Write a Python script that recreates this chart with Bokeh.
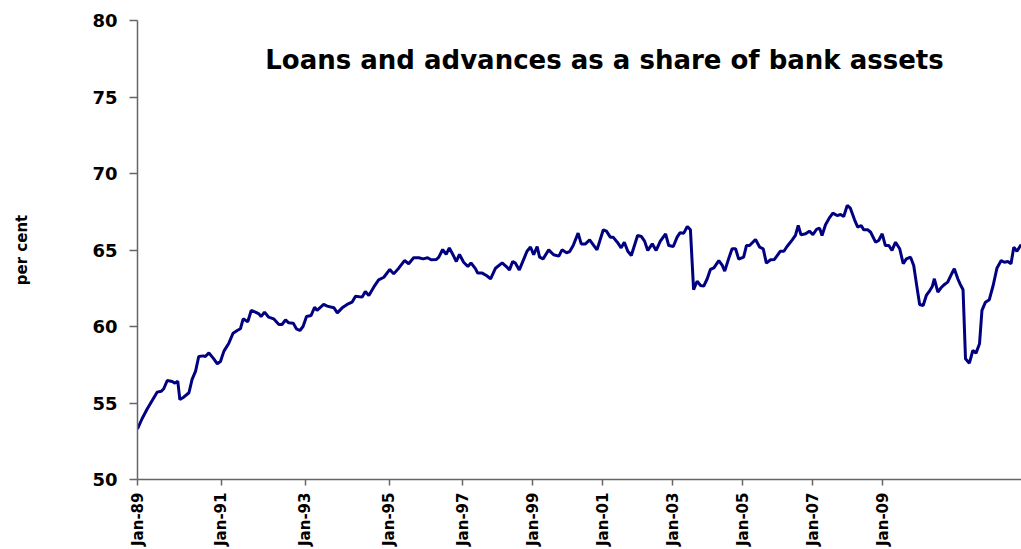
from bokeh.plotting import figure
from bokeh.models import Range1d, FixedTicker, Label
from bokeh.embed import file_html
from bokeh.resources import INLINE

# observation number (monthly-ish index along the category axis) and share of bank assets (per cent)
obs = [0, 1.3, 2.8, 4.2, 5.6, 6.8, 7.5, 8.5, 9.9, 10.7, 11.5, 12.1, 13.2, 14.7, 15.6, 16.6, 17.5, 18.8, 19.4, 20.4,
       21.8, 22.8, 23.7, 24.7, 26.1, 27.3, 28.5, 29.4, 30.2, 31.5, 32.5, 33.7, 34.7, 35.3, 36.3, 37.5, 38.9, 40.4,
       41.3, 42.3, 43.2, 44.5, 45.4, 46.4, 47.3, 48.3, 49.6, 50.6, 51.3, 53.2, 54.2, 56.1, 57.1, 58.5, 59.9, 61.3,
       62.3, 64.2, 65.1, 66.1, 67.5, 68.9, 70.4, 72.1, 73.2, 74.7, 76.3, 77.5, 78.9, 80.4, 81.6, 82.9, 83.9, 85.4,
       86.1, 87.2, 88.2, 89.1, 90.1, 91.1, 92.0, 93.2, 94.4, 95.3, 96.6, 97.2, 98.5, 99.7, 100.9, 102.3, 104.2,
       105.4, 106.3, 107.2, 108.0, 109.1, 110.2, 111.3, 112.3, 113.2, 114.2, 114.9, 115.9, 117.5, 118.9, 120.4,
       121.3, 122.6, 123.5, 124.5, 125.9, 126.8, 128.0, 129.2, 130.4, 131.3, 133.1, 134.0, 135.1, 135.9, 137.1,
       138.2, 139.1, 140.1, 141.1, 142.9, 144.0, 144.9, 145.8, 147.1, 148.2, 149.4, 150.9, 151.8, 153.1, 154.2,
       155.0, 156.1, 157.1, 158.0, 158.9, 159.9, 160.9, 161.8, 162.8, 163.7, 164.7, 166.1, 167.1, 167.8, 168.9,
       169.9, 170.9, 171.8, 173.2, 174.0, 174.9, 176.6, 177.8, 178.8, 179.7, 180.9, 182.0, 183.7, 184.7, 185.6,
       187.1, 188.0, 188.8, 189.6, 190.9, 192.0, 193.0, 194.0, 194.9, 195.6, 196.6, 197.7, 198.7, 199.9, 200.9,
       201.8, 202.8, 203.7, 204.9, 205.8, 206.8, 207.5, 208.7, 209.5, 210.9, 211.8, 212.8, 213.7, 214.7, 215.6,
       216.6, 217.8, 218.8, 219.7, 220.9, 221.8, 222.8, 223.5, 224.5, 225.4, 226.4, 227.1, 227.7, 228.7, 229.6,
       230.6, 231.5, 232.5, 233.4, 234.4, 235.1, 235.9, 236.6, 237.7, 238.7, 239.6, 240.6, 241.3, 242.3, 243.4,
       244.5, 245.6, 246.8, 247.7, 248.7, 249.6, 250.4, 251.3, 252.5]
share = [53.3, 53.97, 54.62, 55.16, 55.71, 55.77, 55.93, 56.47, 56.41, 56.30, 56.43, 55.23, 55.38, 55.67, 56.54,
         57.08, 58.04, 58.08, 58.04, 58.28, 57.88, 57.56, 57.71, 58.39, 58.91, 59.56, 59.74, 59.85, 60.50, 60.31,
         61.05, 60.94, 60.83, 60.65, 60.94, 60.61, 60.50, 60.13, 60.13, 60.44, 60.24, 60.22, 59.85, 59.74, 60.00,
         60.65, 60.72, 61.26, 61.05, 61.44, 61.33, 61.23, 60.89, 61.22, 61.44, 61.59, 61.98, 61.92, 62.29, 62.03,
         62.57, 63.05, 63.22, 63.73, 63.44, 63.83, 64.31, 64.10, 64.49, 64.49, 64.42, 64.49, 64.36, 64.38, 64.53,
         65.03, 64.71, 65.14, 64.71, 64.25, 64.71, 64.20, 63.92, 64.16, 63.77, 63.49, 63.49, 63.33, 63.12, 63.81,
         64.16, 63.92, 63.70, 64.25, 64.14, 63.70, 64.31, 64.92, 65.20, 64.69, 65.23, 64.53, 64.42, 65.01, 64.69,
         64.60, 65.01, 64.82, 64.90, 65.29, 66.10, 65.40, 65.40, 65.66, 65.29, 65.01, 66.32, 66.23, 65.84, 65.84,
         65.51, 65.14, 65.51, 64.92, 64.64, 65.95, 65.88, 65.58, 64.97, 65.40, 64.97, 65.58, 66.06, 65.29, 65.23,
         65.84, 66.12, 66.10, 66.54, 66.32, 62.40, 62.96, 62.68, 62.64, 63.12, 63.73, 63.83, 64.31, 63.99, 63.62,
         64.42, 65.08, 65.08, 64.40, 64.53, 65.29, 65.29, 65.69, 65.18, 65.08, 64.14, 64.36, 64.38, 64.92, 64.92,
         65.23, 65.66, 65.95, 66.60, 65.99, 66.06, 66.23, 66.01, 66.34, 66.43, 65.95, 66.65, 67.10, 67.41, 67.25,
         67.32, 67.19, 67.91, 67.73, 66.97, 66.49, 66.60, 66.32, 66.32, 66.16, 65.51, 65.62, 66.06, 65.29, 65.29,
         64.97, 65.51, 65.08, 64.10, 64.42, 64.53, 63.99, 62.46, 61.44, 61.37, 62.03, 62.35, 62.61, 63.12, 62.24,
         62.53, 62.75, 62.90, 63.38, 63.77, 63.12, 62.75, 62.40, 57.89, 57.60, 58.43, 58.26, 58.87, 61.05, 61.59,
         61.75, 62.68, 63.83, 64.31, 64.20, 64.25, 64.10, 65.18, 64.92, 65.36]

tick_obs = [0, 24, 48, 72, 93, 113, 133, 153, 173, 193, 213]
tick_labels = ["Jan-89", "Jan-91", "Jan-93", "Jan-95", "Jan-97", "Jan-99",
               "Jan-01", "Jan-03", "Jan-05", "Jan-07", "Jan-09"]
y_ticks = [50, 55, 60, 65, 70, 75, 80]

title_text = "Loans and advances as a share of bank assets"
FONT = "DejaVu Sans"

p = figure(width=1021, height=549, output_backend="svg", toolbar_location=None,
           x_range=Range1d(0, 252.6), y_range=Range1d(50, 80),
           min_border_left=137, min_border_right=0, min_border_top=20, min_border_bottom=70)
p.outline_line_color = None
p.xgrid.visible = False
p.ygrid.visible = False
p.background_fill_color = "white"
p.border_fill_color = "white"

p.line(obs, share, line_color="#000080", line_width=3)

# x axis
xa = p.xaxis[0]
xa.ticker = FixedTicker(ticks=tick_obs)
xa.major_label_overrides = {t: l for t, l in zip(tick_obs, tick_labels)}
xa.major_label_orientation = 1.5708
xa.major_label_text_font = FONT
xa.major_label_text_font_style = "bold"
xa.major_label_text_font_size = "15px"
xa.major_label_text_color = "black"
xa.major_label_standoff = 7
xa.major_tick_out = 6
xa.major_tick_in = 0
xa.minor_tick_out = 0
xa.minor_tick_in = 0
xa.axis_line_color = "#666666"
xa.axis_line_width = 1.5
xa.major_tick_line_color = "#666666"
xa.major_tick_line_width = 1.5

# y axis
ya = p.yaxis[0]
ya.ticker = FixedTicker(ticks=y_ticks)
ya.major_label_text_font = FONT
ya.major_label_text_font_style = "bold"
ya.major_label_text_font_size = "18px"
ya.major_label_text_color = "black"
ya.major_label_standoff = 12
ya.major_tick_out = 8
ya.major_tick_in = 0
ya.minor_tick_out = 0
ya.minor_tick_in = 0
ya.axis_line_color = "#666666"
ya.axis_line_width = 1.5
ya.major_tick_line_color = "#666666"
ya.major_tick_line_width = 1.5
ya.axis_label = "per cent"
ya.axis_label_text_font = FONT
ya.axis_label_text_font_style = "bold"
ya.axis_label_text_font_size = "15px"
ya.axis_label_text_color = "black"
ya.axis_label_standoff = 58

title = Label(x=467, y=420, x_units="screen", y_units="screen", text=title_text,
              text_font=FONT, text_font_style="bold", text_font_size="26px",
              text_align="center", text_baseline="alphabetic", text_color="black")
p.add_layout(title)

open("out.html", "w").write(file_html(p, INLINE))
